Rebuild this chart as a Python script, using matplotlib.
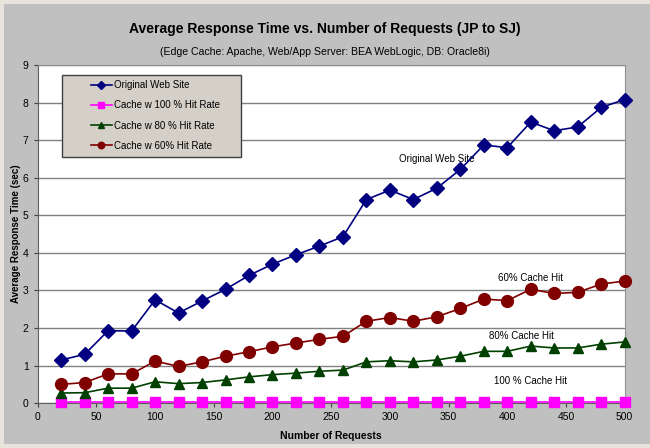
import matplotlib.pyplot as plt
from matplotlib.patches import Rectangle

plt.rcParams['font.family'] = ['Liberation Sans', 'DejaVu Sans']

# Data
requests = [20, 40, 60, 80, 100, 120, 140, 160, 180, 200, 220, 240, 260,
            280, 300, 320, 340, 360, 380, 400, 420, 440, 460, 480, 500]
original = [1.15, 1.3, 1.93, 1.92, 2.75, 2.4, 2.72, 3.03, 3.4, 3.7, 3.95, 4.18, 4.43,
            5.42, 5.67, 5.42, 5.72, 6.22, 6.87, 6.8, 7.48, 7.25, 7.35, 7.87, 8.08]
hit100 = [0.02] * 25
hit80 = [0.27, 0.28, 0.4, 0.4, 0.57, 0.52, 0.55, 0.62, 0.7, 0.76, 0.8, 0.85, 0.88,
         1.1, 1.13, 1.1, 1.15, 1.25, 1.38, 1.38, 1.52, 1.47, 1.47, 1.57, 1.63]
hit60 = [0.5, 0.55, 0.78, 0.78, 1.12, 0.98, 1.1, 1.25, 1.37, 1.5, 1.6, 1.7, 1.78,
         2.18, 2.28, 2.18, 2.3, 2.52, 2.77, 2.73, 3.03, 2.92, 2.95, 3.17, 3.25]

fig = plt.figure(figsize=(6.5, 4.48), dpi=100)
fig.patch.set_facecolor('#E8E4DC')
fig.patches.append(Rectangle((4 / 650, 4 / 448), 1, 1 - 8 / 448, transform=fig.transFigure,
                             facecolor='#C0C0C0', edgecolor='none', zorder=-10))

ax = fig.add_axes([0.058, 0.1, 0.903, 0.755])
ax.set_facecolor('white')

ax.plot(requests, original, color='#000080', marker='D', markersize=7.5, lw=1.2,
        label='Original Web Site', zorder=5, clip_on=False)
ax.plot(requests, hit100, color='#FF00FF', marker='s', markersize=7.5, lw=1.2,
        label='Cache w 100 % Hit Rate', zorder=5, clip_on=False)
ax.plot(requests, hit80, color='#004000', marker='^', markersize=7.5, lw=1.2,
        label='Cache w 80 % Hit Rate', zorder=5, clip_on=False)
ax.plot(requests, hit60, color='#800000', marker='o', markersize=8.5, lw=1.2,
        label='Cache w 60% Hit Rate', zorder=5, clip_on=False)

ax.set_xlim(0, 500)
ax.set_ylim(0, 9)
ax.set_xticks(range(0, 501, 50))
ax.set_yticks(range(0, 10))
ax.tick_params(labelsize=7.5, length=3, color='#404040')
ax.yaxis.grid(True, color='#808080', lw=1)
ax.set_axisbelow(True)
for side in ['top', 'right']:
    ax.spines[side].set_color('#909090')
for side in ['left', 'bottom']:
    ax.spines[side].set_color('#606060')

ax.set_xlabel('Number of Requests', fontsize=7.5, fontweight='bold', labelpad=6)
ax.set_ylabel('Average Response Time (sec)', fontsize=7, fontweight='bold', labelpad=1)

ax.text(340, 6.5, 'Original Web Site', fontsize=7, ha='center', va='center')
ax.text(420, 3.33, '60% Cache Hit', fontsize=7, ha='center', va='center')
ax.text(412, 1.78, '80% Cache Hit', fontsize=7, ha='center', va='center')
ax.text(420, 0.58, '100 % Cache Hit', fontsize=7, ha='center', va='center')

# legend box drawn as its own patch (wide left/right padding like the original)
ax.add_patch(Rectangle((0.041, 0.728), 0.305, 0.242, transform=ax.transAxes,
                       facecolor='#D4D0C8', edgecolor='#404040', lw=1, zorder=9))
leg = ax.legend(loc='upper left', bbox_to_anchor=(0.09, 0.955), fontsize=7,
                frameon=False, handlelength=2.2, markerscale=0.55,
                borderpad=0, borderaxespad=0, labelspacing=1.05, handletextpad=0.2)
leg.set_zorder(10)

fig.text(0.5, 0.935, 'Average Response Time vs. Number of Requests (JP to SJ)',
         fontsize=10, fontweight='bold', ha='center', va='center')
fig.text(0.5, 0.884, '(Edge Cache: Apache, Web/App Server: BEA WebLogic, DB: Oracle8i)',
         fontsize=7.6, ha='center', va='center')

fig.savefig('out.png', dpi=100, facecolor=fig.get_facecolor())
